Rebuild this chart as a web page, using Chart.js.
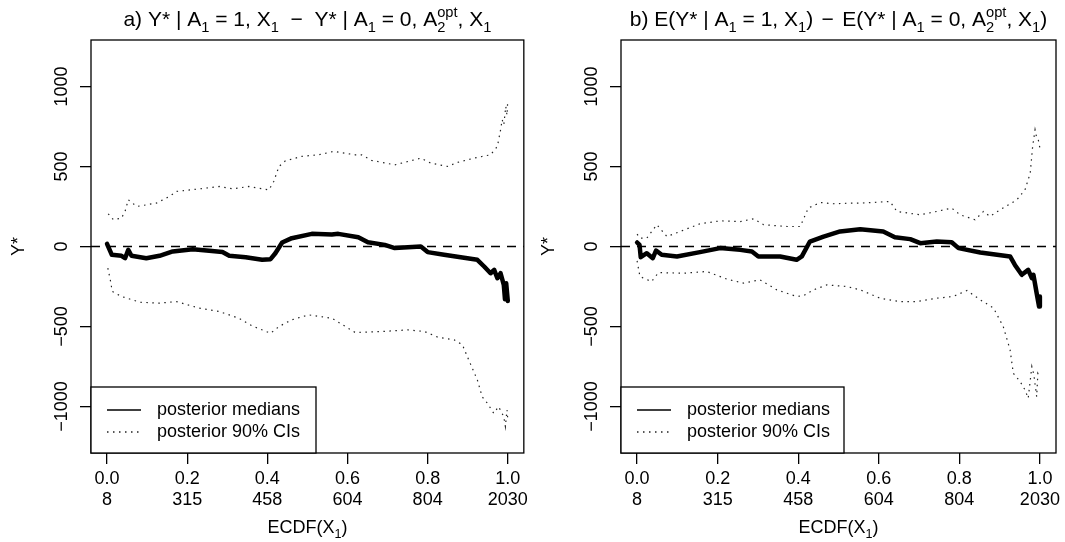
<!DOCTYPE html>
<html>
<head>
<meta charset="utf-8">
<title>Posterior treatment effect by ECDF(X1)</title>
<script src="https://cdn.jsdelivr.net/npm/chart.js@4.4.1/dist/chart.umd.min.js"></script>
<style>
  body { margin: 0; background: #fff; }
  canvas { position: absolute; top: 0; }
</style>
</head>
<body>
<canvas id="panelA" width="532" height="542" style="left:0"></canvas>
<canvas id="panelB" width="533" height="542" style="left:532px"></canvas>
<script>
// shared axes: ECDF of X1, with the matching X1 quantiles underneath
const xTicks = [0, 0.2, 0.4, 0.6, 0.8, 1.0];
const xTickLabels = ['0.0', '0.2', '0.4', '0.6', '0.8', '1.0'];
const xQuantiles = ['8', '315', '458', '604', '804', '2030'];
const yTicks = [-1000, -500, 0, 500, 1000];
const yTickLabels = ['\u22121000', '\u2212500', '0', '500', '1000'];
const legendLabels = ['posterior medians', 'posterior 90% CIs'];

// a) Y* | A1=1,X1 - Y* | A1=0,A2opt,X1
const aMedX = [0, 0.012, 0.036, 0.045, 0.053, 0.061, 0.098, 0.131, 0.164, 0.214, 0.255, 0.288, 0.305, 0.346, 0.387, 0.408, 0.42, 0.437, 0.461, 0.511, 0.561, 0.577, 0.627, 0.651, 0.693, 0.718, 0.783, 0.8, 0.841, 0.924, 0.941, 0.957, 0.966, 0.974, 0.982, 0.99, 0.993, 0.996, 1.0];
const aMedY = [17, -52, -58, -73, -21, -58, -73, -58, -31, -17, -27, -35, -58, -67, -83, -79, -42, 25, 52, 79, 75, 79, 58, 27, 10, -10, 0, -35, -52, -83, -125, -167, -146, -198, -167, -240, -330, -230, -340];
const aUpX = [0.003, 0.016, 0.036, 0.045, 0.053, 0.074, 0.123, 0.156, 0.173, 0.23, 0.28, 0.313, 0.354, 0.404, 0.416, 0.429, 0.445, 0.486, 0.528, 0.565, 0.619, 0.635, 0.66, 0.718, 0.783, 0.808, 0.85, 0.874, 0.916, 0.957, 0.974, 0.982, 0.986, 0.99, 0.995, 0.998, 1.0];
const aUpY = [204, 167, 177, 219, 292, 250, 271, 313, 344, 360, 375, 360, 375, 354, 406, 500, 535, 563, 573, 594, 573, 573, 538, 510, 552, 521, 500, 525, 552, 573, 625, 729, 792, 760, 875, 820, 917];
const aLoX = [0.002, 0.009, 0.013, 0.036, 0.082, 0.131, 0.173, 0.23, 0.28, 0.329, 0.362, 0.408, 0.429, 0.461, 0.503, 0.561, 0.619, 0.685, 0.751, 0.792, 0.825, 0.866, 0.887, 0.899, 0.924, 0.936, 0.949, 0.965, 0.977, 0.99, 0.994, 0.998, 1.0];
const aLoY = [-135, -219, -281, -312, -348, -354, -344, -385, -406, -448, -496, -542, -500, -458, -427, -448, -537, -531, -521, -531, -566, -583, -615, -688, -833, -938, -979, -1042, -1000, -1063, -1125, -1021, -1080];

// b) E(Y* | A1=1,X1) - E(Y* | A1=0,A2opt,X1)
const bMedX = [0, 0.006, 0.009, 0.024, 0.039, 0.047, 0.061, 0.099, 0.156, 0.206, 0.256, 0.285, 0.301, 0.355, 0.396, 0.409, 0.429, 0.463, 0.504, 0.554, 0.611, 0.64, 0.678, 0.703, 0.744, 0.781, 0.798, 0.852, 0.926, 0.938, 0.955, 0.971, 0.98, 0.984, 0.992, 0.998, 1.0];
const bMedY = [25, 10, -67, -42, -73, -25, -52, -62, -35, -10, -21, -31, -62, -62, -83, -62, 31, 62, 94, 108, 94, 58, 46, 21, 31, 27, -10, -37, -62, -115, -177, -146, -198, -177, -292, -375, -313];
const bUpX = [0, 0.007, 0.024, 0.049, 0.074, 0.107, 0.156, 0.206, 0.256, 0.289, 0.314, 0.372, 0.405, 0.425, 0.455, 0.487, 0.529, 0.554, 0.628, 0.645, 0.703, 0.744, 0.781, 0.802, 0.839, 0.86, 0.876, 0.901, 0.943, 0.963, 0.976, 0.982, 0.988, 0.992, 0.996, 1.0];
const bUpY = [77, 52, 52, 136, 62, 94, 142, 160, 156, 173, 136, 125, 125, 240, 275, 267, 271, 271, 281, 219, 198, 219, 240, 198, 167, 219, 188, 229, 292, 354, 458, 625, 729, 680, 667, 615];
const bLoX = [0, 0.007, 0.036, 0.053, 0.115, 0.173, 0.223, 0.264, 0.305, 0.347, 0.396, 0.413, 0.438, 0.471, 0.521, 0.554, 0.603, 0.653, 0.694, 0.744, 0.785, 0.819, 0.852, 0.885, 0.909, 0.926, 0.934, 0.951, 0.963, 0.971, 0.98, 0.985, 0.992, 0.995, 1.0];
const bLoY = [-90, -188, -219, -163, -167, -156, -204, -229, -208, -271, -312, -308, -271, -240, -250, -271, -323, -344, -344, -323, -312, -275, -333, -385, -500, -646, -792, -844, -896, -948, -750, -800, -938, -792, -812];

const FONT = '"Liberation Sans", Arial, Helvetica, sans-serif';
Chart.defaults.font.family = FONT;

// text with subscripts / stacked sub+superscripts, centred on cx
function richText(ctx, segs, cx, y, size) {
  const small = size * 0.7;
  const widthOf = s => {
    if (s.t !== undefined) { ctx.font = size + 'px ' + FONT; return ctx.measureText(s.t).width; }
    ctx.font = small + 'px ' + FONT;
    return Math.max(ctx.measureText(s.sub || '').width, ctx.measureText(s.sup || '').width);
  };
  const total = segs.reduce((w, s) => w + widthOf(s), 0);
  let x = cx - total / 2;
  ctx.textAlign = 'left';
  ctx.textBaseline = 'alphabetic';
  segs.forEach(s => {
    const w = widthOf(s);
    if (s.t !== undefined) ctx.fillText(s.t, x, y);
    else {
      if (s.sub) ctx.fillText(s.sub, x, y + size * 0.3);
      if (s.sup) ctx.fillText(s.sup, x, y - size * 0.42);
    }
    x += w;
  });
}

const panelDecor = {
  id: 'panelDecor',
  beforeDatasetsDraw(chart) {
    const {ctx, chartArea: ca, scales: {y}} = chart;
    const y0 = y.getPixelForValue(0);
    ctx.save();
    ctx.strokeStyle = '#000';
    ctx.lineWidth = 1.3;
    ctx.setLineDash([9, 7]);
    ctx.beginPath();
    ctx.moveTo(ca.left, y0);
    ctx.lineTo(ca.right, y0);
    ctx.stroke();
    ctx.restore();
  },
  afterDraw(chart, args, opts) {
    const {ctx, chartArea: ca, scales: {y}} = chart;
    const cx = (ca.left + ca.right) / 2;
    ctx.save();
    ctx.fillStyle = '#000';
    ctx.strokeStyle = '#000';

    // box round the plot region
    ctx.lineWidth = 1.3;
    ctx.strokeRect(ca.left, ca.top, ca.right - ca.left, ca.bottom - ca.top);

    // rotated y tick labels
    ctx.font = '18px ' + FONT;
    ctx.textAlign = 'center';
    ctx.textBaseline = 'alphabetic';
    y.ticks.forEach(t => {
      ctx.save();
      ctx.translate(ca.left - 24, y.getPixelForValue(t.value));
      ctx.rotate(-Math.PI / 2);
      ctx.fillText(yTickLabels[yTicks.indexOf(t.value)], 0, 0);
      ctx.restore();
    });

    // y axis title
    ctx.save();
    ctx.translate(ca.left - 67, (ca.top + ca.bottom) / 2);
    ctx.rotate(-Math.PI / 2);
    ctx.fillText('Y*', 0, 0);
    ctx.restore();

    // x axis title and main title
    richText(ctx, [{t: 'ECDF(X'}, {sub: '1'}, {t: ')'}], cx, 533, 18);
    richText(ctx, opts.title, cx, 26, 21);

    // legend, bottom-left inside the box
    const lx = ca.left, lw = opts.legendW, lt = ca.bottom - 66;
    ctx.fillStyle = '#fff';
    ctx.fillRect(lx, lt, lw, ca.bottom - lt);
    ctx.lineWidth = 1.3;
    ctx.strokeRect(lx, lt, lw, ca.bottom - lt);
    const rows = [lt + 23, lt + 45];
    const ds = chart.data.datasets;
    rows.forEach((ry, i) => {
      ctx.save();
      ctx.strokeStyle = ds[i].borderColor;
      ctx.lineWidth = i === 0 ? 1.5 : 1.3;
      ctx.setLineDash(ds[i].borderDash || []);
      ctx.beginPath();
      ctx.moveTo(lx + 16, ry);
      ctx.lineTo(lx + 50, ry);
      ctx.stroke();
      ctx.restore();
      ctx.fillStyle = '#000';
      ctx.font = '18px ' + FONT;
      ctx.textAlign = 'left';
      ctx.textBaseline = 'middle';
      ctx.fillText(legendLabels[i], lx + 66, ry);
    });
    ctx.restore();
  }
};

const pts = (xs, ys) => xs.map((x, i) => ({x, y: ys[i]}));

function makePanel(id, title, med, up, lo, yWidth, padRight, legendW) {
  const ciStyle = {borderColor: '#222', borderWidth: 1.2, borderDash: [1.5, 4.5], pointRadius: 0, fill: false};
  new Chart(document.getElementById(id), {
    type: 'line',
    data: {
      datasets: [
        {label: legendLabels[0], data: pts(med[0], med[1]), borderColor: '#000', borderWidth: 4.5,
         borderJoinStyle: 'round', borderCapStyle: 'round', pointRadius: 0, fill: false},
        Object.assign({label: legendLabels[1], data: pts(up[0], up[1])}, ciStyle),
        Object.assign({label: 'lower', data: pts(lo[0], lo[1])}, ciStyle)
      ]
    },
    options: {
      responsive: false,
      animation: false,
      devicePixelRatio: 1,
      layout: {padding: {top: 40, left: 0, right: padRight, bottom: 0}},
      plugins: {
        legend: {display: false},
        tooltip: {enabled: false},
        panelDecor: {title: title, legendW: legendW}
      },
      scales: {
        x: {
          type: 'linear', min: -0.04, max: 1.04,
          afterBuildTicks: s => { s.ticks = xTicks.map(v => ({value: v})); },
          afterFit: s => { s.height = 89; },
          grid: {drawOnChartArea: false, tickLength: 11, color: '#000', lineWidth: 1.3},
          border: {display: false},
          ticks: {
            color: '#000', font: {size: 18}, padding: 4, maxRotation: 0, autoSkip: false,
            callback: v => { const i = xTicks.indexOf(v); return [xTickLabels[i], xQuantiles[i]]; }
          }
        },
        y: {
          min: -1290, max: 1290,
          afterBuildTicks: s => { s.ticks = yTicks.map(v => ({value: v})); },
          afterFit: s => { s.width = yWidth; },
          grid: {drawOnChartArea: false, tickLength: 11, color: '#000', lineWidth: 1.3},
          border: {display: false},
          ticks: {display: false}
        }
      }
    },
    plugins: [panelDecor]
  });
}

makePanel('panelA',
  [{t: 'a) Y* | A'}, {sub: '1'}, {t: ' = 1, X'}, {sub: '1'}, {t: '  \u2212  Y* | A'}, {sub: '1'},
   {t: ' = 0, A'}, {sub: '2', sup: 'opt'}, {t: ', X'}, {sub: '1'}],
  [aMedX, aMedY], [aUpX, aUpY], [aLoX, aLoY], 91, 5, 225);

makePanel('panelB',
  [{t: 'b) E(Y* | A'}, {sub: '1'}, {t: ' = 1, X'}, {sub: '1'}, {t: ')\u2009\u2009\u2212\u2009\u2009E(Y* | A'}, {sub: '1'},
   {t: ' = 0, A'}, {sub: '2', sup: 'opt'}, {t: ', X'}, {sub: '1'}, {t: ')'}],
  [bMedX, bMedY], [bUpX, bUpY], [bLoX, bLoY], 89, 9, 223);
</script>
</body>
</html>
